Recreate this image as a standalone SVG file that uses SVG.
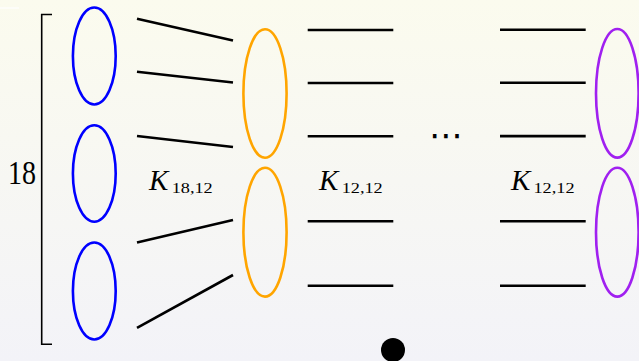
<svg xmlns="http://www.w3.org/2000/svg" width="639" height="361" viewBox="0 0 639 361">
<defs>
<linearGradient id="bg" x1="0" y1="0" x2="0" y2="1">
<stop offset="0" stop-color="#fbfbee"/>
<stop offset="1" stop-color="#f3f3f8"/>
</linearGradient>
<style>
.edge{stroke:#000;stroke-width:2.6;fill:none;stroke-linecap:butt}
.blue{fill:none;stroke:#0000ff;stroke-width:2.6}
.orange{fill:none;stroke:#ffa500;stroke-width:2.6}
.purple{fill:none;stroke:#a020f0;stroke-width:2.6}
.t{font-family:"Liberation Serif","DejaVu Serif",serif;fill:#000}
.k{font-style:italic;font-size:29px}
.s{font-size:15px}
</style>
</defs>
<rect width="639" height="361" fill="url(#bg)"/>
<line x1="0" y1="8" x2="19" y2="8" stroke="#ffffff" stroke-width="1.2"/>
<g id="bracket">
<path d="M52,14.5 H41.7 V344.3 H52" fill="none" stroke="#000" stroke-width="1.6"/>
<text class="t" x="8" y="184" font-size="33" textLength="28" lengthAdjust="spacingAndGlyphs">18</text>
</g>
<g id="blue1"><ellipse class="blue" cx="94.3" cy="56" rx="21.4" ry="48.5"/></g>
<g id="blue2"><ellipse class="blue" cx="94.3" cy="173.5" rx="21.4" ry="48.2"/></g>
<g id="blue3"><ellipse class="blue" cx="94.3" cy="291" rx="21.4" ry="48.5"/></g>
<g id="orange1"><ellipse class="orange" cx="265" cy="93.5" rx="21.6" ry="64.2"/></g>
<g id="orange2"><ellipse class="orange" cx="265" cy="232.2" rx="21.6" ry="64.4"/></g>
<g id="purple1"><ellipse class="purple" cx="617.3" cy="93.3" rx="21.3" ry="64.3"/></g>
<g id="purple2"><ellipse class="purple" cx="617.3" cy="232.2" rx="21.3" ry="64.4"/></g>
<g id="connectors">
<line class="edge" x1="137" y1="18.8" x2="233" y2="40.5"/>
<line class="edge" x1="137" y1="71.8" x2="233" y2="82.5"/>
<line class="edge" x1="137" y1="136" x2="233" y2="147"/>
<line class="edge" x1="137" y1="242.5" x2="233" y2="220"/>
<line class="edge" x1="137" y1="327.8" x2="233" y2="275"/>
<line class="edge" x1="307.7" y1="30" x2="393.3" y2="30"/>
<line class="edge" x1="307.7" y1="83" x2="393.3" y2="83"/>
<line class="edge" x1="307.7" y1="136.3" x2="393.3" y2="136.3"/>
<line class="edge" x1="307.7" y1="221.3" x2="393.3" y2="221.3"/>
<line class="edge" x1="307.7" y1="285.7" x2="393.3" y2="285.7"/>
<line class="edge" x1="500" y1="29.8" x2="585.7" y2="29.8"/>
<line class="edge" x1="500" y1="82.8" x2="585.7" y2="82.8"/>
<line class="edge" x1="500" y1="136.1" x2="585.7" y2="136.1"/>
<line class="edge" x1="500" y1="221.3" x2="585.7" y2="221.3"/>
<line class="edge" x1="500" y1="285.7" x2="585.7" y2="285.7"/>
</g>
<g id="labels">
<text class="t" x="149" y="190"><tspan class="k">K</tspan><tspan class="s" x="171.7" y="193.3" textLength="41" lengthAdjust="spacingAndGlyphs">18,12</tspan></text>
<text class="t" x="319" y="190"><tspan class="k">K</tspan><tspan class="s" x="341.7" y="193.3" textLength="41" lengthAdjust="spacingAndGlyphs">12,12</tspan></text>
<text class="t" x="511" y="190"><tspan class="k">K</tspan><tspan class="s" x="533.5" y="193.3" textLength="41" lengthAdjust="spacingAndGlyphs">12,12</tspan></text>
<text x="429" y="147" font-family="DejaVu Sans, sans-serif" font-size="34">⋯</text>
</g>
<g id="dot"><circle cx="393" cy="350" r="12" fill="#000"/></g>
</svg>
